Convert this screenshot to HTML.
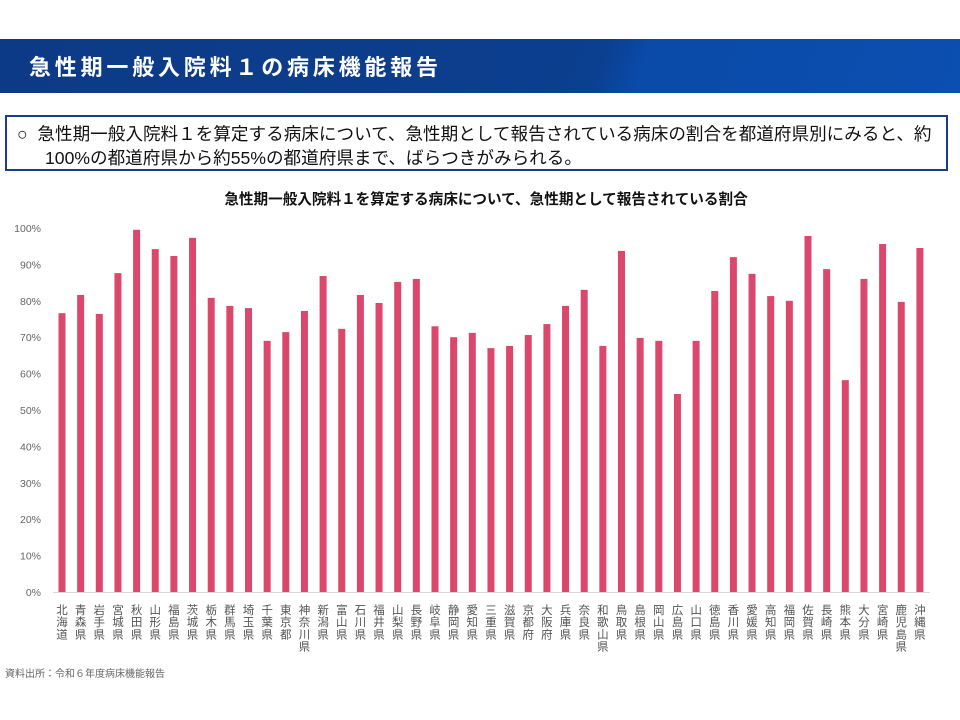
<!DOCTYPE html>
<html><head><meta charset="utf-8"><style>
body{margin:0;width:960px;height:720px;background:#fff;overflow:hidden;font-family:"Liberation Sans","Noto Sans CJK JP",sans-serif;}
.hdr{position:absolute;left:0;top:39px;width:960px;height:54px;background:linear-gradient(110deg,#0d3a86 0%,#0b3f8f 62%,#0a4aa8 66.5%,#0b4fb0 100%);}
.hdr span{position:absolute;left:29px;top:11px;color:#fff;font-size:22px;font-weight:bold;letter-spacing:3.8px;}
.box{position:absolute;left:5px;top:115px;width:943px;height:56px;border:2px solid #1a3d8f;box-sizing:border-box;}
.box div{position:absolute;left:10px;font-size:17.6px;color:#111;white-space:nowrap;}
</style></head><body>
<div class="hdr"><span>急性期一般入院料１の病床機能報告</span></div>
<div class="box"><div style="top:4px">○&nbsp;&nbsp;急性期一般入院料１を算定する病床について、急性期として報告されている病床の割合を都道府県別にみると、約</div><div style="top:28px;left:38px">100%の都道府県から約55%の都道府県まで、ばらつきがみられる。</div></div>
<svg width="960" height="720" style="position:absolute;left:0;top:0">
<text x="486" y="204" text-anchor="middle" font-size="14.6" font-weight="bold" fill="#111" font-family="Liberation Sans,Noto Sans CJK JP,sans-serif">急性期一般入院料１を算定する病床について、急性期として報告されている割合</text>
<g id="ax" font-size="10.5" fill="#666" text-anchor="end" font-family="Liberation Sans,sans-serif"></g>
<line x1="53" y1="592.5" x2="930" y2="592.5" stroke="#d8d8d8" stroke-width="1"/>
<g id="bars" fill="#dc486c"></g>
<g id="lab" font-size="11.5" fill="#555" text-anchor="middle" font-family="Noto Sans CJK JP,sans-serif"></g>
<text x="5" y="677" font-size="10" fill="#666" font-family="Noto Sans CJK JP,sans-serif">資料出所：令和６年度病床機能報告</text>
</svg>
<script>
var v=[76.6,81.6,76.4,87.6,99.5,94.2,92.3,97.3,80.8,78.6,78,69,71.4,77.2,86.8,72.3,81.6,79.4,85.2,86,73,70,71.2,67,67.6,70.6,73.6,78.6,83,67.6,93.7,69.8,69,54.4,69,82.7,92,87.4,81.3,80,97.8,88.7,58.2,86,95.6,79.7,94.5];
var n="北海道,青森県,岩手県,宮城県,秋田県,山形県,福島県,茨城県,栃木県,群馬県,埼玉県,千葉県,東京都,神奈川県,新潟県,富山県,石川県,福井県,山梨県,長野県,岐阜県,静岡県,愛知県,三重県,滋賀県,京都府,大阪府,兵庫県,奈良県,和歌山県,鳥取県,島根県,岡山県,広島県,山口県,徳島県,香川県,愛媛県,高知県,福岡県,佐賀県,長崎県,熊本県,大分県,宮崎県,鹿児島県,沖縄県".split(",");
var ns="http://www.w3.org/2000/svg",b=document.getElementById("bars"),l=document.getElementById("lab"),a=document.getElementById("ax");
function el(t,p,at){var e=document.createElementNS(ns,t);for(var k in at)e.setAttribute(k,at[k]);p.appendChild(e);return e;}
for(var i=0;i<=10;i++){var y=592-i*36.4;el("text",a,{x:41,y:y+4}).textContent=(i*10)+"%";}
for(var i=0;i<47;i++){var cx=62+i*18.65,h=v[i]*3.64;el("rect",b,{x:cx-3.5,y:592-h,width:7,height:h});
for(var j=0;j<n[i].length;j++)el("text",l,{x:cx,y:614+j*12.2}).textContent=n[i][j];}
</script>
</body></html>
